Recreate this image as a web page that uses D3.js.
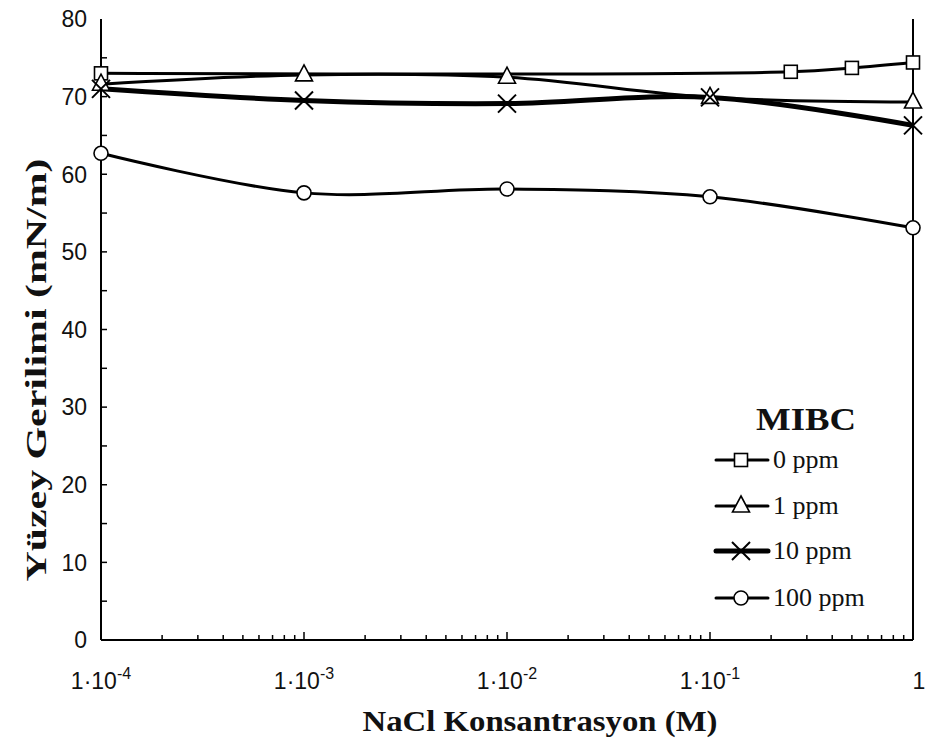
<!DOCTYPE html>
<html>
<head>
<meta charset="utf-8">
<script src="https://cdn.jsdelivr.net/npm/d3@7"></script>
<style>
  html, body { margin: 0; padding: 0; background: #fff; }
  svg { display: block; }
</style>
</head>
<body>
<svg id="chart" width="928" height="749"></svg>
<script>
// NaCl concentrations (M) and surface tension (mN/m) for each MIBC dosage
const conc0 = [1e-4, 0.25, 0.5, 1];
const val0 = [73.0, 73.2, 73.7, 74.4];

const conc = [1e-4, 1e-3, 1e-2, 1e-1, 1];
const val1 = [71.6, 72.8, 72.5, 69.9, 69.3];
const val10 = [71.0, 69.5, 69.1, 69.9, 66.3];
const val100 = [62.7, 57.6, 58.1, 57.1, 53.1];

const seriesNames = ["0 ppm", "1 ppm", "10 ppm", "100 ppm"];
const seriesMarkers = ["square", "triangle", "cross", "circle"];
const yTicks = [0, 10, 20, 30, 40, 50, 60, 70, 80];
const xTickExponents = [-4, -3, -2, -1, 0];
const xTitle = "NaCl Konsantrasyon (M)";
const yTitle = "Yüzey Gerilimi (mN/m)";
const legendTitle = "MIBC";

const series = [
  { name: seriesNames[0], marker: seriesMarkers[0], xs: conc0, ys: val0, width: 3 },
  { name: seriesNames[1], marker: seriesMarkers[1], xs: conc, ys: val1, width: 3 },
  { name: seriesNames[2], marker: seriesMarkers[2], xs: conc, ys: val10, width: 5 },
  { name: seriesNames[3], marker: seriesMarkers[3], xs: conc, ys: val100, width: 3 }
];

const svg = d3.select("#chart");
const plotLeft = 101, plotRight = 913, plotTop = 19, plotBottom = 640;

const x = d3.scaleLog().domain([1e-4, 1]).range([plotLeft, plotRight]);
const y = d3.scaleLinear().domain([0, 80]).range([plotBottom, plotTop]);

const sansFont = "'Liberation Sans', Arial, sans-serif";
const serifFont = "'Liberation Serif', 'Times New Roman', serif";

// Axes frame: left axis, bottom axis and the vertical line at 1 M
svg.append("line").attr("x1", plotLeft).attr("x2", plotLeft).attr("y1", plotTop).attr("y2", plotBottom)
  .attr("stroke", "#000").attr("stroke-width", 2);
svg.append("line").attr("x1", plotRight).attr("x2", plotRight).attr("y1", plotTop).attr("y2", plotBottom)
  .attr("stroke", "#000").attr("stroke-width", 2);
svg.append("line").attr("x1", plotLeft).attr("x2", plotRight).attr("y1", plotBottom).attr("y2", plotBottom)
  .attr("stroke", "#000").attr("stroke-width", 2);

// Y ticks every 5 units pointing inward
const yMinor = d3.range(5, 80, 5);
svg.append("g").selectAll("line").data(yMinor).join("line")
  .attr("x1", plotLeft).attr("x2", plotLeft + 6)
  .attr("y1", d => y(d)).attr("y2", d => y(d))
  .attr("stroke", "#000").attr("stroke-width", 1.5);

svg.append("g").selectAll("text").data(yTicks).join("text")
  .attr("x", plotLeft - 14).attr("y", d => y(d))
  .attr("dy", "0.36em")
  .attr("text-anchor", "end")
  .attr("font-family", sansFont).attr("font-size", 23)
  .attr("fill", "#111")
  .text(d => d);

// X ticks: decades (longer) and 2..9 minor ticks, pointing up
const xMinor = [];
for (let e = -4; e < 0; e++) for (let m = 2; m <= 9; m++) xMinor.push(m * Math.pow(10, e));
svg.append("g").selectAll("line").data(xMinor).join("line")
  .attr("x1", d => x(d)).attr("x2", d => x(d))
  .attr("y1", plotBottom).attr("y2", plotBottom - 5)
  .attr("stroke", "#000").attr("stroke-width", 1.5);
svg.append("g").selectAll("line").data(xTickExponents).join("line")
  .attr("x1", d => x(Math.pow(10, d))).attr("x2", d => x(Math.pow(10, d)))
  .attr("y1", plotBottom).attr("y2", plotBottom - 8)
  .attr("stroke", "#000").attr("stroke-width", 1.5);

const xl = svg.append("g").selectAll("text").data(xTickExponents).join("text")
  .attr("x", d => x(Math.pow(10, d)) + (d === 0 ? 6 : 0))
  .attr("y", 689)
  .attr("text-anchor", "middle")
  .attr("font-family", sansFont).attr("font-size", 23)
  .attr("fill", "#111");
xl.each(function(d) {
  const t = d3.select(this);
  if (d === 0) { t.text("1"); return; }
  t.append("tspan").text("1\u00B710");
  t.append("tspan").attr("dy", -10).attr("font-size", 16).text(String(d));
});

// Series lines (smoothed) and markers
const line = d3.line().curve(d3.curveCatmullRom.alpha(0.5));

series.forEach(s => {
  const pts = s.xs.map((c, i) => [x(c), y(s.ys[i])]);
  svg.append("path").attr("d", line(pts))
    .attr("fill", "none").attr("stroke", "#000")
    .attr("stroke-width", s.width).attr("stroke-linejoin", "round");
});

function drawMarker(g, type, cx, cy) {
  if (type === "square") {
    g.append("rect").attr("x", cx - 6.5).attr("y", cy - 6.5).attr("width", 13).attr("height", 13)
      .attr("fill", "#fff").attr("stroke", "#000").attr("stroke-width", 1.6);
  } else if (type === "triangle") {
    g.append("path").attr("d", `M${cx},${cy - 10} L${cx + 8.5},${cy + 6} L${cx - 8.5},${cy + 6} Z`)
      .attr("fill", "#fff").attr("stroke", "#000").attr("stroke-width", 1.6);
  } else if (type === "cross") {
    g.append("path").attr("d", `M${cx - 9},${cy - 9} L${cx + 9},${cy + 9} M${cx - 9},${cy + 9} L${cx + 9},${cy - 9}`)
      .attr("fill", "none").attr("stroke", "#000").attr("stroke-width", 2);
  } else {
    g.append("circle").attr("cx", cx).attr("cy", cy).attr("r", 7)
      .attr("fill", "#fff").attr("stroke", "#000").attr("stroke-width", 1.6);
  }
}

const markers = svg.append("g");
series.forEach(s => {
  s.xs.forEach((c, i) => drawMarker(markers, s.marker, x(c), y(s.ys[i])));
});

// Legend
const legend = svg.append("g");
legend.append("text").attr("x", 806).attr("y", 430)
  .attr("text-anchor", "middle")
  .attr("font-family", serifFont).attr("font-weight", "bold").attr("font-size", 32)
  .attr("textLength", 100).attr("lengthAdjust", "spacingAndGlyphs")
  .attr("fill", "#111")
  .text(legendTitle);
const legendRowY = [460, 506, 551, 598];
series.forEach((s, i) => {
  const ly = legendRowY[i];
  legend.append("line").attr("x1", 716).attr("x2", 768).attr("y1", ly).attr("y2", ly)
    .attr("stroke", "#000").attr("stroke-width", s.width).attr("stroke-linecap", "round");
  drawMarker(legend, s.marker, 741, ly);
  legend.append("text").attr("x", 773).attr("y", ly + 8)
    .attr("font-family", serifFont).attr("font-size", 26)
    .attr("fill", "#111")
    .text(s.name);
});

// Axis titles
svg.append("text").attr("x", 540).attr("y", 731)
  .attr("text-anchor", "middle")
  .attr("font-family", serifFont).attr("font-weight", "bold").attr("font-size", 30)
  .attr("textLength", 355).attr("lengthAdjust", "spacingAndGlyphs")
  .attr("fill", "#111")
  .text(xTitle);
svg.append("text")
  .attr("transform", `translate(46,${370}) rotate(-90)`)
  .attr("text-anchor", "middle")
  .attr("font-family", serifFont).attr("font-weight", "bold").attr("font-size", 30)
  .attr("textLength", 423).attr("lengthAdjust", "spacingAndGlyphs")
  .attr("fill", "#111")
  .text(yTitle);
</script>
</body>
</html>
